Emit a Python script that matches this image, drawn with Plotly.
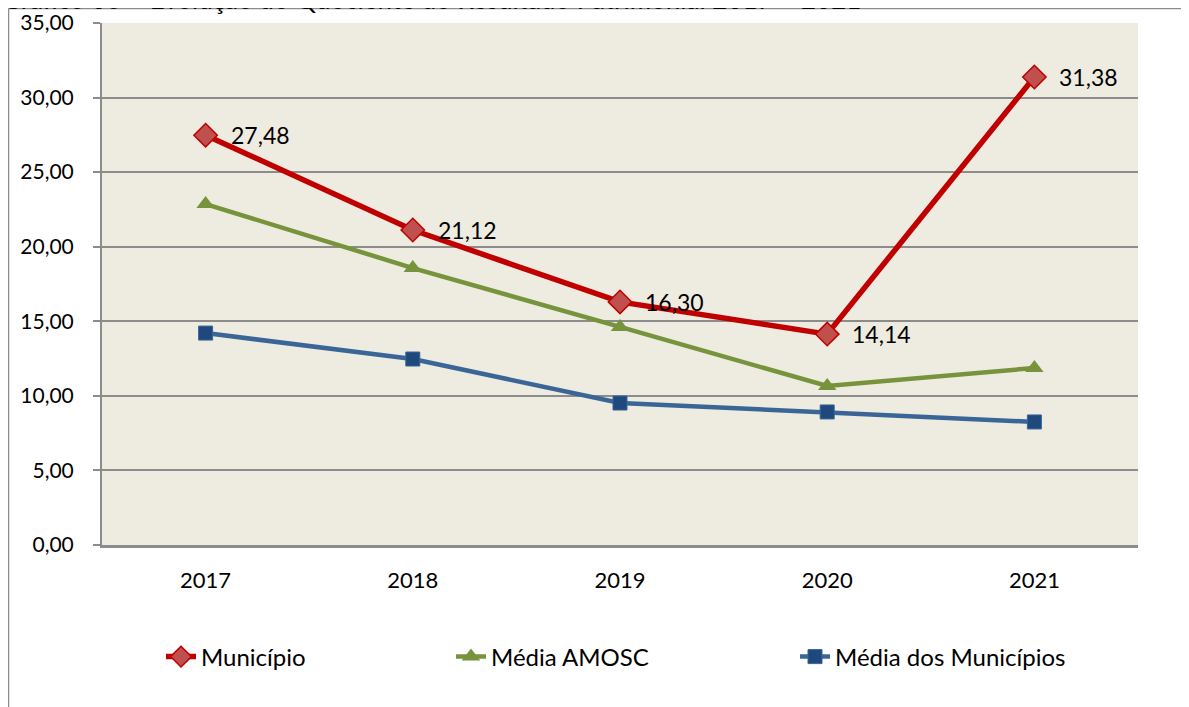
import plotly.graph_objects as go

years = ["2017", "2018", "2019", "2020", "2021"]
municipio = [27.48, 21.12, 16.30, 14.14, 31.38]
media_amosc = [22.86, 18.57, 14.62, 10.66, 11.87]
media_municipios = [14.21, 12.47, 9.52, 8.92, 8.25]
municipio_labels = ["27,48", "21,12", "16,30", "14,14", "31,38"]
y_ticks = [0, 5, 10, 15, 20, 25, 30, 35]
y_tick_text = ["0,00", "5,00", "10,00", "15,00", "20,00", "25,00", "30,00", "35,00"]
title_text = "Gráfico 03 – Evolução do Quociente do Resultado Patrimonial 2017 – 2021"

FONT = "Lato"
OFF = 8  # page body margin
W, H = 1189 - OFF, 707 - OFF
# plot area in page pixels
PL, PR, PT, PB = 102, 1138, 23, 545
L, T = PL - OFF, PT - OFF
R, B = W - (PR - OFF), H - (PB - OFF)
PW, PH = W - L - R, H - T - B

def px_x(xp):  # page pixel -> paper
    return (xp - OFF - L) / PW

def px_y(yp):
    return (H - B - (yp - OFF)) / PH

fig = go.Figure()
fig.add_trace(go.Scatter(
    x=years, y=municipio, name="Município", mode="lines+markers",
    line=dict(color="#C00000", width=5.5),
    marker=dict(symbol="diamond", size=18, color="#C0504D", line=dict(color="#C00000", width=1.5)),
    legend="legend",
))
fig.add_trace(go.Scatter(
    x=years, y=media_amosc, name="Média AMOSC", mode="lines+markers",
    line=dict(color="#77933C", width=4.5),
    marker=dict(symbol="triangle-up", size=16, color="#77933C"),
    legend="legend2",
))
fig.add_trace(go.Scatter(
    x=years, y=media_municipios, name="Média dos Municípios", mode="lines+markers",
    line=dict(color="#3A6597", width=4.5),
    marker=dict(symbol="square", size=14, color="#1F497D", line=dict(color="#3A6597", width=1)),
    legend="legend3",
))

annots = []
for i, (v, lab) in enumerate(zip(municipio, municipio_labels)):
    annots.append(dict(xref="x", yref="y", x=i, y=v, text=lab, showarrow=False,
                       xanchor="left", xshift=23, yanchor="middle",
                       font=dict(family=FONT, size=23, color="#000000")))
annots.append(dict(xref="paper", yref="paper", x=px_x(0), y=px_y(-0.5), text=title_text,
                   showarrow=False, xanchor="left", yanchor="middle",
                   font=dict(family=FONT, size=26, color="#000000")))

shapes = [
    dict(type="line", xref="paper", yref="paper", x0=px_x(8.5), x1=px_x(1200),
         y0=px_y(8.5), y1=px_y(8.5), line=dict(color="#8C8C8C", width=1.5)),
    dict(type="line", xref="paper", yref="paper", x0=px_x(8.5), x1=px_x(8.5),
         y0=px_y(8.5), y1=px_y(720), line=dict(color="#8C8C8C", width=1.5)),
]

leg_common = dict(orientation="h", xanchor="left", yanchor="middle",
                  font=dict(family=FONT, size=24, color="#000000"), bgcolor="rgba(0,0,0,0)")
fig.update_layout(
    width=W, height=H,
    margin=dict(l=L, r=R, t=T, b=B, autoexpand=False),
    paper_bgcolor="white", plot_bgcolor="#EEEBE0",
    font=dict(family=FONT, size=21, color="#000000"),
    showlegend=True,
    annotations=annots, shapes=shapes,
    legend=dict(x=px_x(161), y=px_y(657), visible=True, **leg_common),
    legend2=dict(x=px_x(451), y=px_y(657), visible=True, **leg_common),
    legend3=dict(x=px_x(795), y=px_y(657), visible=True, **leg_common),
    xaxis=dict(type="category", showgrid=False, showline=True, linecolor="#8C8C8C", linewidth=2.5,
               ticks="", tickfont=dict(family=FONT, size=22), ticklabelstandoff=14,
               range=[-0.5, 4.5]),
    yaxis=dict(range=[0, 35], tickvals=y_ticks, ticktext=y_tick_text,
               showgrid=True, gridcolor="#8C8C8C", gridwidth=2,
               showline=True, linecolor="#8C8C8C", linewidth=2,
               ticks="outside", ticklen=7, tickcolor="#8C8C8C", tickwidth=1.5,
               tickfont=dict(family=FONT, size=21), ticklabelstandoff=15,
               zeroline=False),
)

fig.write_html("out.html")
